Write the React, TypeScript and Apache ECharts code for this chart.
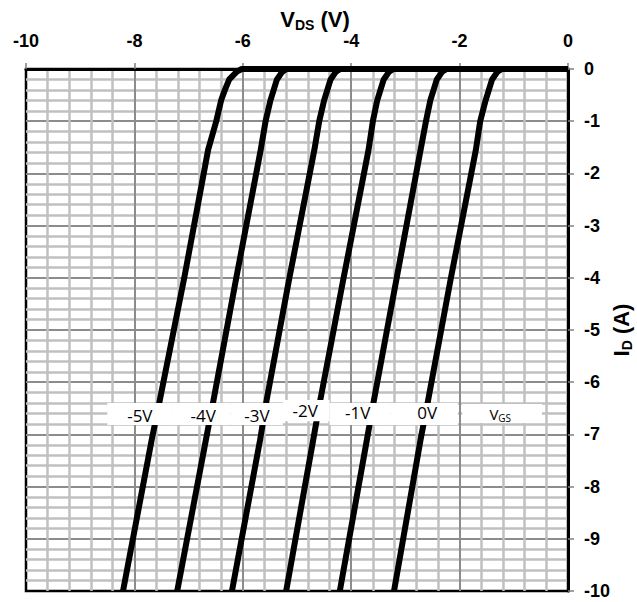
import React, { useEffect, useRef } from "react";
import * as echarts from "echarts";

// Drain current levels (A) at which each output curve is sampled
const idLevels = [0, -0.05, -0.2, -0.4, -0.6, -1, -1.55, -4, -6.34, -7.1, -10];

// V_DS (V) of each curve at the levels above, one array per gate voltage
const vdsVgsM5 = [-6.02, -6.11, -6.25, -6.33, -6.4, -6.49, -6.64, -7.08, -7.53, -7.68, -8.21];
const vdsVgsM4 = [-5.19, -5.27, -5.37, -5.43, -5.49, -5.58, -5.67, -6.12, -6.54, -6.68, -7.21];
const vdsVgsM3 = [-4.2, -4.28, -4.38, -4.44, -4.5, -4.59, -4.68, -5.14, -5.56, -5.68, -6.2];
const vdsVgsM2 = [-3.22, -3.3, -3.4, -3.46, -3.52, -3.6, -3.68, -4.14, -4.57, -4.7, -5.2];
const vdsVgsM1 = [-2.24, -2.32, -2.42, -2.48, -2.54, -2.62, -2.72, -3.16, -3.58, -3.71, -4.21];
const vdsVgs0 = [-1.22, -1.3, -1.4, -1.46, -1.52, -1.62, -1.7, -2.16, -2.58, -2.72, -3.21];

const curveNames = ["-5V", "-4V", "-3V", "-2V", "-1V", "0V"];
const curveVds = [vdsVgsM5, vdsVgsM4, vdsVgsM3, vdsVgsM2, vdsVgsM1, vdsVgs0];

// Gate-voltage tags: text anchor (data units)
const tagTexts = ["-5V", "-4V", "-3V", "-2V", "-1V", "0V", "VGS"];
const tagX = [-7.9, -6.73, -5.74, -4.85, -3.88, -2.6, -1.25];
const tagY = [-6.63, -6.63, -6.63, -6.55, -6.59, -6.59, -6.61];

// White boxes behind each tag (data units): left, right, top, bottom
const tagBoxLeft = [-8.5, -7.29, -6.23, -5.26, -4.4, -3.28, -1.95];
const tagBoxRight = [-7.29, -6.23, -5.26, -4.4, -3.28, -2.03, -0.48];
const tagBoxTop = [-6.4, -6.4, -6.4, -6.34, -6.4, -6.4, -6.42];
const tagBoxBottom = [-6.82, -6.82, -6.82, -6.75, -6.82, -6.82, -6.78];

const FONT = "'Liberation Sans', Arial, sans-serif";
const TAG_FONT = "'Open Sans', 'Noto Sans', sans-serif";

const nameRich = {
  v: { fontFamily: FONT, fontWeight: "bold", fontSize: 22, color: "#000" },
  s: {
    fontFamily: FONT,
    fontWeight: "bold",
    fontSize: 14,
    color: "#000",
    verticalAlign: "bottom",
    padding: [12, 0, 0, 0],
  },
};

export default function App() {
  const ref = useRef<HTMLDivElement>(null);

  useEffect(() => {
    if (!ref.current) return;
    const chart = echarts.init(ref.current, undefined, { renderer: "svg" });

    const curveSeries = curveNames.map((name, k) => ({
      name,
      type: "line",
      z: 3,
      symbol: "none",
      smooth: false,
      clip: true,
      lineStyle: { color: "#000", width: 6, join: "round" },
      data: [[0, 0] as number[]].concat(
        idLevels.map((id, i) => [curveVds[k][i], id])
      ),
    }));

    const axisCommon = {
      type: "value",
      min: -10,
      max: 0,
      nameMoveOverlap: false,
      axisLine: { show: true, onZero: false, lineStyle: { color: "#000", width: 3 } },
      axisTick: { show: true, inside: false, length: 6, lineStyle: { color: "#808080", width: 1.5 } },
      splitLine: {
        show: true,
        showMinLine: false,
        showMaxLine: false,
        lineStyle: { color: "#8c8c8c", width: 2 },
      },
      minorTick: { show: false, splitNumber: 5 },
      minorSplitLine: { show: true, lineStyle: { color: "#c0c0c0", width: 2.5 } },
    };

    const tagItems = tagTexts.map((t, i) => [
      tagX[i],
      tagY[i],
      tagBoxLeft[i],
      tagBoxRight[i],
      tagBoxTop[i],
      tagBoxBottom[i],
      i,
    ]);

    const option = {
      animation: false,
      backgroundColor: "#fff",
      grid: {
        left: 26,
        right: 69,
        top: 69,
        bottom: 11,
        outerBoundsMode: "none",
        containLabel: false,
        show: true,
        borderColor: "#000",
        borderWidth: 2.5,
        backgroundColor: "#fff",
      },
      xAxis: {
        ...axisCommon,
        position: "top",
        interval: 2,
        name: "{v|V}{s|DS}{v| (V)}",
        nameLocation: "middle",
        nameGap: 50,
        nameTextStyle: {
          align: "center",
          verticalAlign: "middle",
          padding: [0, 0, 0, 36],
          rich: nameRich,
        },
        axisLabel: {
          margin: 19,
          fontFamily: FONT,
          fontWeight: "bold",
          fontSize: 18,
          color: "#000",
        },
      },
      yAxis: {
        ...axisCommon,
        position: "right",
        interval: 1,
        name: "{v|I}{s|D}{v| (A)}",
        nameLocation: "middle",
        nameRotate: 90,
        nameGap: 53,
        nameTextStyle: { align: "center", verticalAlign: "middle", rich: nameRich },
        axisLabel: {
          margin: 16,
          fontFamily: FONT,
          fontWeight: "bold",
          fontSize: 18,
          color: "#000",
        },
      },
      series: [
        ...curveSeries,
        {
          name: "tags",
          type: "custom",
          z: 5,
          silent: true,
          clip: false,
          data: tagItems,
          encode: { x: [0, 2, 3], y: [1, 4, 5] },
          renderItem: (_params: any, api: any) => {
            const idx = api.value(6);
            const anchor = api.coord([api.value(0), api.value(1)]);
            const tl = api.coord([api.value(2), api.value(4)]);
            const br = api.coord([api.value(3), api.value(5)]);
            const text = tagTexts[idx];
            const children: any[] = [
              {
                type: "rect",
                shape: { x: tl[0], y: tl[1], width: br[0] - tl[0], height: br[1] - tl[1] },
                style: { fill: "#fff", stroke: null },
              },
            ];
            if (text === "VGS") {
              children.push({
                type: "text",
                x: anchor[0],
                y: anchor[1],
                style: {
                  text: "{v|V}{s|GS}",
                  align: "center",
                  verticalAlign: "middle",
                  rich: {
                    v: { fontFamily: TAG_FONT, fontSize: 15, fill: "#000" },
                    s: {
                      fontFamily: TAG_FONT,
                      fontSize: 10,
                      fill: "#000",
                      verticalAlign: "bottom",
                      padding: [8, 0, 0, 0],
                    },
                  },
                },
              });
            } else {
              children.push({
                type: "text",
                x: anchor[0],
                y: anchor[1],
                style: {
                  text,
                  align: "center",
                  verticalAlign: "middle",
                  fontFamily: TAG_FONT,
                  fontSize: 17,
                  fill: "#000",
                },
              });
            }
            return { type: "group", children };
          },
        },
      ],
    };

    chart.setOption(option as any);
    return () => chart.dispose();
  }, []);

  return (
    <div
      ref={ref}
      style={{ position: "fixed", left: 0, top: 0, width: 637, height: 602 }}
    />
  );
}
